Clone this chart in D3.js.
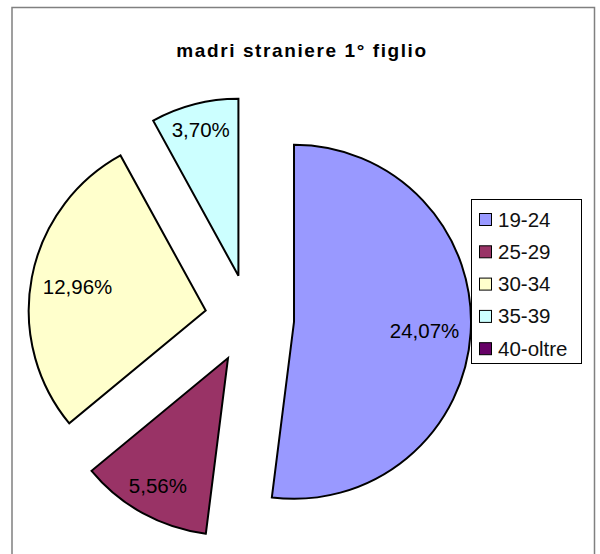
<!DOCTYPE html>
<html lang="it">
<head>
<meta charset="utf-8">
<script src="https://cdnjs.cloudflare.com/ajax/libs/d3/7.8.5/d3.min.js"></script>
<style>
body { margin: 0; background: #fff; }
text { font-family: "Liberation Sans", Arial, sans-serif; }
</style>
</head>
<body>
<script>
    var title = "madri straniere 1° figlio"
    var categories = ["19-24", "25-29", "30-34", "35-39", "40-oltre"]
    var values = [24.07, 5.56, 12.96, 3.70, 0]
    var colors = ["#9999ff", "#993366", "#ffffcc", "#ccffff", "#660066"]

    var w = 600
    var h = 554
    var cx = 249.5, cy = 319
    var radius = 177
    var explode = 44.6

    var svg = d3.select("body").append("svg")
        .attr("width", w)
        .attr("height", h)

    // outer frame (bottom edge falls outside the picture)
    svg.append("path")
        .attr("d", "M12,570 L12,7.5 L594.5,7.5 L594.5,570")
        .attr("fill", "none")
        .attr("stroke", "#808080")
        .attr("stroke-width", 1.5)

    svg.append("text")
        .attr("x", 302)
        .attr("y", 56.5)
        .attr("text-anchor", "middle")
        .attr("font-size", "19px")
        .attr("font-weight", "bold")
        .attr("letter-spacing", "1.6px")
        .attr("fill", "#000")
        .text(title)

    var data = categories.map(function(c, i) {
        return { name: c, value: values[i], color: colors[i] }
    })

    var pie = d3.pie()
        .sort(null)
        .value(function(d) { return d.value })
        .startAngle(0)
        .endAngle(2 * Math.PI)

    var arc = d3.arc().innerRadius(0).outerRadius(radius)

    var arcs = pie(data).filter(function(d) { return d.data.value > 0 })

    function dir(d) {
        var a = (d.startAngle + d.endAngle) / 2
        return [Math.sin(a), -Math.cos(a)]
    }

    var g = svg.append("g").attr("transform", "translate(" + cx + "," + cy + ")")

    var slice = g.selectAll("g.slice")
        .data(arcs)
        .enter()
        .append("g")
        .attr("class", "slice")
        .attr("transform", function(d) {
            var u = dir(d)
            return "translate(" + (u[0] * explode) + "," + (u[1] * explode) + ")"
        })

    slice.append("path")
        .attr("d", arc)
        .attr("fill", function(d) { return d.data.color })
        .attr("stroke", "#000")
        .attr("stroke-width", 2)
        .attr("stroke-linejoin", "miter")

    var fmt = function(v) { return v.toFixed(2).replace(".", ",") + "%" }

    var labels = slice.append("text")
        .attr("font-size", "20.5px")
        .attr("fill", "#000")
        .attr("text-anchor", "middle")
        .text(function(d) { return fmt(d.data.value) })

    // keep the label box inside the slice, near the rim
    var rOut = 166
    labels.each(function(d) {
        var bw = this.getComputedTextLength()
        var bh = 15
        var u = dir(d)
        var t = rOut - (Math.abs(u[0]) * bw / 2 + Math.abs(u[1]) * bh / 2)
        d3.select(this)
            .attr("x", u[0] * t)
            .attr("y", u[1] * t + 7.5)
    })

    // legend
    var lx = 471, ly = 199, lw = 110, lh = 164
    var legend = svg.append("g")
    legend.append("rect")
        .attr("x", lx + 0.5)
        .attr("y", ly + 0.5)
        .attr("width", lw)
        .attr("height", lh)
        .attr("fill", "#fff")
        .attr("stroke", "#000")
        .attr("stroke-width", 1)

    var item = legend.selectAll("g.item")
        .data(data)
        .enter()
        .append("g")
        .attr("class", "item")
        .attr("transform", function(d, i) {
            return "translate(" + (lx + 8) + "," + (ly + 20 + i * 32.3) + ")"
        })

    item.append("rect")
        .attr("x", 0.5)
        .attr("y", -5.5)
        .attr("width", 12)
        .attr("height", 12)
        .attr("fill", function(d) { return d.color })
        .attr("stroke", "#000")
        .attr("stroke-width", 1)

    item.append("text")
        .attr("x", 19)
        .attr("y", 7.5)
        .attr("font-size", "20.5px")
        .attr("fill", "#111")
        .text(function(d) { return d.name })
</script>
</body>
</html>
